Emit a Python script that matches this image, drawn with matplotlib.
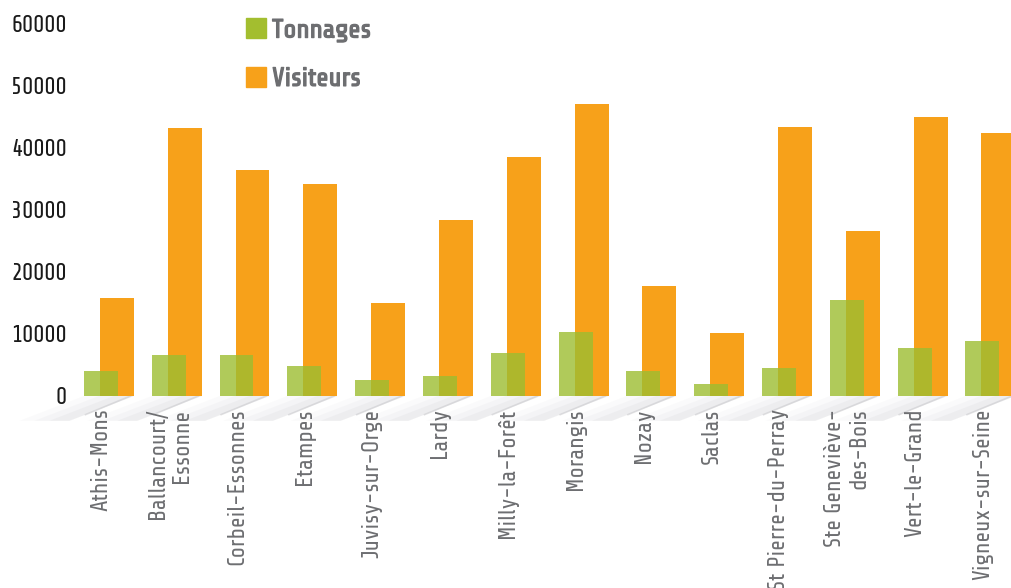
import numpy as np
import matplotlib.pyplot as plt
import matplotlib.patheffects as pe
from matplotlib.patches import Patch, Polygon

# --- données ---
communes = [
    "Athis-Mons", "Ballancourt/\nEssonne", "Corbeil-Essonnes", "Etampes",
    "Juvisy-sur-Orge", "Lardy", "Milly-la-Forêt", "Morangis", "Nozay",
    "Saclas", "St Pierre-du-Perray", "Ste Geneviève-\ndes-Bois",
    "Vert-le-Grand", "Vigneux-sur-Seine",
]
tonnages = [4000, 6600, 6600, 4800, 2600, 3200, 6900, 10300, 4000, 1900,
            4500, 15500, 7700, 8900]
visiteurs = [15800, 43200, 36500, 34200, 15000, 28400, 38500, 47100, 17700,
             10200, 43400, 26600, 45000, 42400]
yticks = [0, 10000, 20000, 30000, 40000, 50000, 60000]

ORANGE = "#F7A11A"
GREEN = "#9CBD31"
GREY = "#6D6E71"

FONTS = ["Share Tech", "Rajdhani", "Barlow Condensed", "DejaVu Sans"]
plt.rcParams["font.family"] = FONTS

fig = plt.figure(figsize=(10.11, 5.88), dpi=100)
ax = fig.add_axes([75 / 1011, 1 - 396 / 588, 1 - 75 / 1011, (396 - 10) / 588])

x = np.arange(len(communes))
w = 0.5
off = 0.118

# ombres au sol (diagonales)
for xi in x:
    left, right = xi - off - w / 2, xi + off + w / 2
    dx, dy = 0.95, -4000
    for k, a in enumerate([0.06, 0.08, 0.11]):
        sh = k * 0.22
        poly = Polygon([(left + sh, 0), (right, 0), (right - dx, dy),
                        (left - dx + sh, dy)],
                       closed=True, facecolor="#b8b8be", edgecolor="none",
                       alpha=a, clip_on=False, zorder=0)
        ax.add_patch(poly)
    ax.plot([right - 0.05, right - dx * 0.75], [0, dy * 0.75], color="#c4c4c8",
            lw=1.2, alpha=0.5, clip_on=False, zorder=0)

ax.bar(x + off, visiteurs, width=w, color=ORANGE, zorder=2)
ax.bar(x - off, tonnages, width=w, color=GREEN, alpha=0.8, zorder=3)

ax.set_xlim(-0.5, (1011 - 109) / 67.8)
ax.set_ylim(0, (396 - 10) / 62 * 10000)
ax.set_yticks(yticks)
ax.set_yticklabels([str(v) for v in yticks], fontsize=17, color="#1a1a1a")
ax.set_xticks(x - off)
ax.set_xticklabels(communes, rotation=90, fontsize=16.5, color=GREY,
                   ha="center", va="top", multialignment="right")
ax.tick_params(axis="both", length=0)
ax.tick_params(axis="x", pad=9)
ax.tick_params(axis="y", pad=6)
for s in ax.spines.values():
    s.set_visible(False)

handles = [Patch(color="#A3BE2F", label="Tonnages"),
           Patch(color=ORANGE, label="Visiteurs")]
leg = ax.legend(handles=handles, loc="upper left",
                bbox_to_anchor=((222 - 75) / 936, 1.04), frameon=False,
                handlelength=0.75, handleheight=0.8, handletextpad=0.25,
                labelspacing=0.95, prop={"size": 19})
for t in leg.get_texts():
    t.set_color(GREY)
    t.set_path_effects([pe.withStroke(linewidth=0.9, foreground=GREY)])

fig.savefig("out.png", dpi=100)
